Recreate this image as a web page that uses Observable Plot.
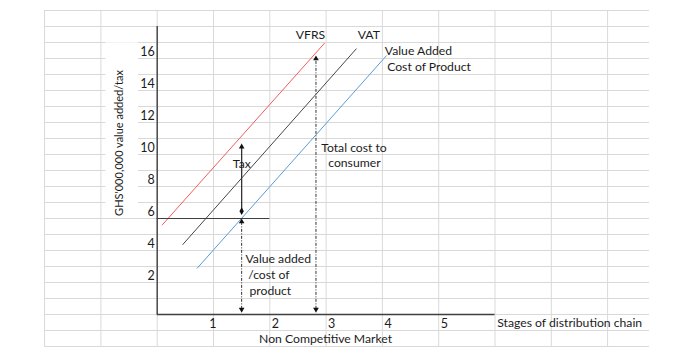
<!DOCTYPE html>
<html>
<head>
<meta charset="utf-8">
<script src="https://cdn.jsdelivr.net/npm/d3@7"></script>
<script src="https://cdn.jsdelivr.net/npm/@observablehq/plot@0.6"></script>
<style>
  html, body { margin: 0; padding: 0; background: #fff; }
</style>
</head>
<body>
<div id="chart"></div>
<script>
// ---- data (in chart units: x = stage, y = GHS'000,000) ----
const yTicks = [2, 4, 6, 8, 10, 12, 14, 16];
const xTicks = [1, 2, 3, 4, 5];
const vfrsLine = [{x: 0.09, y: 5.6}, {x: 2.97, y: 16.95}];
const vatLine = [{x: 0.455, y: 4.375}, {x: 3.535, y: 16.6}];
const valueAddedLine = [{x: 0.71, y: 2.89}, {x: 4.07, y: 16.17}];
const priceLevel = 6;          // horizontal line level
const priceLevelEnd = 2;       // horizontal line runs from 0 to 2
const stageA = 1.5;            // tax / value added arrows
const taxTop = 10.67;
const taxBottom = 6.46;
const stageB = 2.82;           // total cost arrow
const totalTop = 16.19;
const arrowBottom = 0.12;
// spreadsheet background cells
const gridCols = [-2, -1, 0, 1, 2, 3, 4, 5, 6, 7, 8];
const gridRows = d3.range(-2, 20);
const gridLeft = -2, gridRight = 8.744, gridBottom = -2, gridTop = 19;
// labels
const labels = [
  {text: "VFRS", x: 2.723, y: 17.44, anchor: "middle"},
  {text: "VAT", x: 3.758, y: 17.44, anchor: "middle"},
  {text: "Value Added", x: 4.043, y: 16.44, anchor: "start"},
  {text: "Cost of Product", x: 4.085, y: 15.44, anchor: "start"},
  {text: "Total cost to", x: 2.913, y: 10.42, anchor: "start"},
  {text: "consumer", x: 3.037, y: 9.46, anchor: "start"},
  {text: "Tax", x: 1.503, y: 9.42, anchor: "middle"},
  {text: "Value added", x: 1.568, y: 3.44, anchor: "start"},
  {text: "/cost of", x: 1.616, y: 2.44, anchor: "start"},
  {text: "product", x: 1.639, y: 1.44, anchor: "start"},
  {text: "Stages of distribution chain", x: 6.04, y: -0.5625, anchor: "start"},
  {text: "Non Competitive Market", x: 2.99, y: -1.5625, anchor: "middle"}
];
const yTitle = "GHS'000,000 value added/tax";

const ink = "#1c1c1c";
const axisInk = "#3f3f3f";

const plot = Plot.plot({
  width: 700,
  height: 355,
  margin: 0,
  x: {type: "linear", domain: [0, 6], range: [156.7, 494.5], axis: null},
  y: {type: "linear", domain: [0, 18], range: [314, 26], axis: null},
  style: {fontFamily: "Lato, 'Open Sans', sans-serif", fontSize: "12.2px", background: "#fff", color: ink},
  marks: [
    // spreadsheet gridlines
    Plot.ruleY(gridRows, {y: d => d, x1: gridLeft, x2: gridRight, stroke: "#d9d9d9", strokeWidth: 1}),
    Plot.ruleX(gridCols, {x: d => d, y1: gridBottom, y2: gridTop, stroke: "#d9d9d9", strokeWidth: 1}),
    // white box behind the y title
    Plot.rect([0], {x1: -0.91, x2: -0.33, y1: 6.02, y2: 16.98, fill: "#fff"}),
    // axes lines
    Plot.ruleX([0], {y1: 0, y2: 18, stroke: axisInk, strokeWidth: 1.4}),
    Plot.ruleY([0], {x1: 0, x2: 6, stroke: axisInk, strokeWidth: 1.4}),
    // series lines
    Plot.line(vfrsLine, {x: "x", y: "y", stroke: "#f45b5b", strokeWidth: 1}),
    Plot.line(vatLine, {x: "x", y: "y", stroke: "#474747", strokeWidth: 1}),
    Plot.line(valueAddedLine, {x: "x", y: "y", stroke: "#5b9bd5", strokeWidth: 1}),
    // horizontal price level line
    Plot.ruleY([priceLevel], {x1: 0, x2: priceLevelEnd, stroke: axisInk, strokeWidth: 1.1}),
    // tax arrow (solid)
    Plot.ruleX([stageA], {y1: taxBottom, y2: taxTop - 0.2, stroke: "#333", strokeWidth: 1.3}),
    Plot.dot([stageA], {x: d => d, y: taxTop, symbol: "triangle", r: 2.1, fill: "#111", stroke: "none", dy: 3}),
    Plot.dot([stageA], {x: d => d, y: taxBottom, symbol: "diamond", r: 2.3, fill: "#111", stroke: "none"}),
    // value added arrow (dash-dot, double headed)
    Plot.ruleX([stageA], {y1: arrowBottom + 0.2, y2: priceLevel - 0.2, stroke: "#333", strokeWidth: 1, strokeDasharray: "3,1.5,1,1.5"}),
    Plot.dot([stageA], {x: d => d, y: priceLevel, symbol: "triangle", r: 2.1, fill: "#111", stroke: "none", dy: 3.2}),
    Plot.dot([stageA], {x: d => d, y: arrowBottom, symbol: "triangle", r: 2.1, fill: "#111", stroke: "none", rotate: 180, dy: -3.2}),
    // total cost arrow (dash-dot, double headed)
    Plot.ruleX([stageB], {y1: arrowBottom + 0.2, y2: totalTop - 0.2, stroke: "#333", strokeWidth: 1, strokeDasharray: "3,1.5,1,1.5"}),
    Plot.dot([stageB], {x: d => d, y: totalTop, symbol: "triangle", r: 2.1, fill: "#111", stroke: "none", dy: 3.2}),
    Plot.dot([stageB], {x: d => d, y: arrowBottom, symbol: "triangle", r: 2.1, fill: "#111", stroke: "none", rotate: 180, dy: -3.2}),
    // y tick labels
    Plot.text(yTicks, {x: 0, y: d => d, text: d => String(d), textAnchor: "end", dx: -2.5, dy: -6.3, fill: ink, fontSize: 12.5}),
    // x tick labels
    Plot.text(xTicks.filter(d => d === 1), {x: d => d, y: 0, text: d => String(d), textAnchor: "end", dx: 3, dy: 9.3, fill: ink, fontSize: 12.5}),
    Plot.text(xTicks.filter(d => d !== 1), {x: d => d, y: 0, text: d => String(d), textAnchor: "start", dx: 2, dy: 9.3, fill: ink, fontSize: 12.5}),
    // annotations
    Plot.text(labels.filter(d => d.anchor === "start"), {x: "x", y: "y", text: "text", textAnchor: "start", fill: ink}),
    Plot.text(labels.filter(d => d.anchor === "middle"), {x: "x", y: "y", text: "text", textAnchor: "middle", fill: ink}),
    // y axis title
    Plot.text([yTitle], {x: -0.67, y: 10.72, text: d => d, rotate: -90, textAnchor: "middle", fill: ink, fontSize: 11})
  ]
});
document.getElementById("chart").appendChild(plot);
</script>
</body>
</html>
